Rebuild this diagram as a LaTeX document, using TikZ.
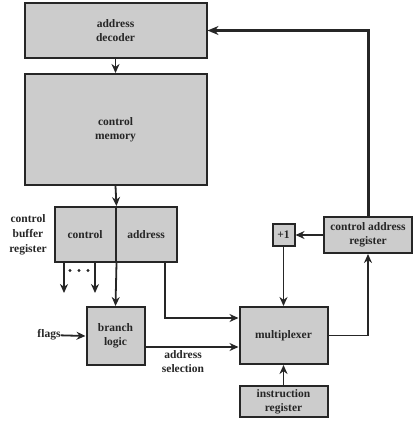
\documentclass[tikz,border=0pt]{standalone}
\usepackage{fontspec}
\setmainfont{Liberation Serif}
\usetikzlibrary{arrows.meta}

\tikzset{
  blk/.style={draw=black!85, line width=2pt, fill=black!20, align=center,
    inner sep=0pt, text=black!85, font=\bfseries\fontsize{11.5}{14}\selectfont},
  lbl/.style={align=center, inner sep=0pt, text=black!85,
    font=\bfseries\fontsize{11.5}{14}\selectfont},
  wire/.style={line width=1.8pt, draw=black!85,
    -{Stealth[length=9pt,width=8pt]}},
  loop/.style={line width=3pt, draw=black!85,
    -{Stealth[length=11pt,width=9pt]}},
}

\begin{document}
\begin{tikzpicture}[x=1pt,y=-1pt]
\useasboundingbox (0,0) rectangle (413,421);

% Left column
\node [blk, minimum width=182, minimum height=55]  (dec) at (115.5,30.5) {address\\decoder};
\node [blk, minimum width=182, minimum height=111] (mem) at (115.5,129.5) {control\\memory};

% Control buffer register, two fields
\node [blk, minimum width=61, minimum height=55] (ctl) at (85,234.5) {control};
\node [blk, minimum width=61, minimum height=55] (adr) at (146,234.5) {address};
\node [lbl, font=\bfseries\fontsize{11.5}{15}\selectfont] (cbr) at (28,235) {control\\buffer\\register};

\node [blk, minimum width=58, minimum height=58] (bl) at (115.5,336) {branch\\logic};
\node [lbl] (flags) at (49,335) {flags};

% Right column
\node [blk, minimum width=88, minimum height=57] (mux) at (283.5,335.5) {multiplexer};
\node [blk, minimum width=88, minimum height=31] (ir)  at (283.5,401.5) {instruction\\register};
\node [blk, minimum width=22, minimum height=22] (inc) at (283.5,235) {+1};
\node [blk, minimum width=88, minimum height=36] (car) at (368,235) {control address\\register};

% Control outputs
\coordinate (o1) at (64,293);
\coordinate (o2) at (95,293);
\draw [wire] (ctl.south -| o1) -- (o1);
\draw [wire] (ctl.south -| o2) -- (o2);
\foreach \x in {70,79,88}
  \fill [black!85] (\x,270.5) circle (1.7pt);

% Connections
\draw [wire] (dec) -- (mem);
\draw [wire] (mem.south) -- (ctl.north east);
\draw [wire] (ctl.south east) -- (bl.north);
\draw [wire] (flags) -- (bl.west);
\draw [wire] ([xshift=-12.5pt]adr.south east) |- ([yshift=17.5pt]mux.west);
\draw [wire] ([yshift=-11pt]bl.east) -- ([yshift=-11.5pt]mux.west);
\node [lbl] (sel) at (183,362) {address\\selection};

\draw [wire] (ir) -- (mux);
\draw [wire] (inc) -- (mux);
\draw [wire] (car) -- (inc);
\draw [wire] (mux.east) -| (car.south);

% Back to the decoder
\draw [loop] (car.north) |- (dec.east);

\end{tikzpicture}
\end{document}
